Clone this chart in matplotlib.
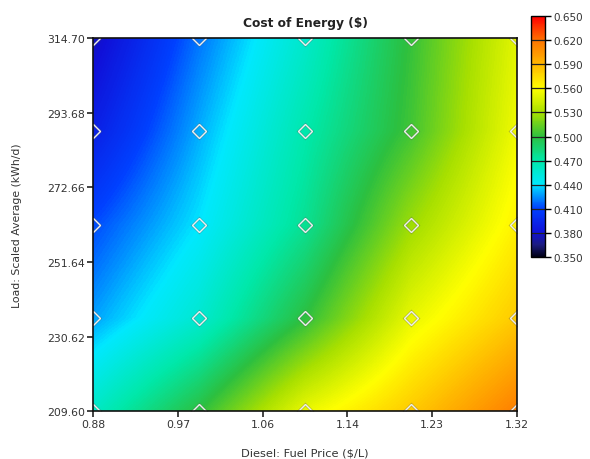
import numpy as np
import matplotlib
matplotlib.use("Agg")
import matplotlib.pyplot as plt
from matplotlib.colors import LinearSegmentedColormap

plt.rcParams['font.family'] = ['DejaVu Sans']

# Data
fuel_price = [0.88, 0.99, 1.10, 1.21, 1.32]
load_avg = [209.600, 235.875, 262.150, 288.425, 314.700]
# rows: load (bottom to top), cols: fuel price
coe = [
    [0.460, 0.500, 0.553, 0.582, 0.615],
    [0.428, 0.456, 0.500, 0.552, 0.582],
    [0.412, 0.440, 0.476, 0.527, 0.565],
    [0.390, 0.430, 0.468, 0.505, 0.555],
    [0.375, 0.420, 0.458, 0.502, 0.550],
]
xtick_labels = ['0.88', '0.97', '1.06', '1.14', '1.23', '1.32']
ytick_labels = ['209.60', '230.62', '251.64', '272.66', '293.68', '314.70']
cbar_ticks = [0.35, 0.38, 0.41, 0.44, 0.47, 0.50, 0.53, 0.56, 0.59, 0.62, 0.65]

vmin, vmax = 0.35, 0.65
anchors = [
    (0.35, '#000018'), (0.365, '#1c1c80'), (0.38, '#1010d8'), (0.41, '#0040ff'),
    (0.425, '#0090ff'), (0.44, '#00e8ff'), (0.47, '#00e8a8'), (0.50, '#2cc040'),
    (0.53, '#a8e000'), (0.56, '#ffff00'), (0.59, '#ffb800'), (0.62, '#ff7400'),
    (0.65, '#ff0000'),
]
cmap = LinearSegmentedColormap.from_list(
    'homer', [((v - vmin) / (vmax - vmin), c) for v, c in anchors])

fig = plt.figure(figsize=(5.9, 4.6), dpi=100)
ax = fig.add_axes([0.158, 0.104, 0.718, 0.811])
Z = np.array(coe)
dx = (fuel_price[-1] - fuel_price[0]) / (len(fuel_price) - 1)
dy = (load_avg[-1] - load_avg[0]) / (len(load_avg) - 1)
im = ax.imshow(Z, origin='lower', cmap=cmap, vmin=vmin, vmax=vmax,
               interpolation='bilinear', interpolation_stage='data',
               aspect='auto',
               extent=[fuel_price[0] - dx / 2, fuel_price[-1] + dx / 2,
                       load_avg[0] - dy / 2, load_avg[-1] + dy / 2])

X, Y = np.meshgrid(fuel_price, load_avg)
# diamond markers at simulated points
ax.plot(X.ravel(), Y.ravel(), linestyle='none', marker='D', markersize=7.5,
        markerfacecolor='none', markeredgecolor='#606060', markeredgewidth=2.0,
        alpha=0.35, clip_on=True)
ax.plot(X.ravel(), Y.ravel(), linestyle='none', marker='D', markersize=7.5,
        markerfacecolor='none', markeredgecolor='#eeeeee', markeredgewidth=1.0,
        clip_on=True)

xmin, xmax = fuel_price[0], fuel_price[-1]
ymin, ymax = load_avg[0], load_avg[-1]
ax.set_xlim(xmin, xmax)
ax.set_ylim(ymin, ymax)
ax.set_xticks(np.linspace(xmin, xmax, len(xtick_labels)))
ax.set_xticklabels(xtick_labels)
ax.set_yticks(np.linspace(ymin, ymax, len(ytick_labels)))
ax.set_yticklabels(ytick_labels)
ax.tick_params(axis='both', direction='out', length=4, width=1.2,
               labelsize=7.8, colors='#222222', labelcolor='#333333', pad=2)
for s in ax.spines.values():
    s.set_linewidth(1.2)
    s.set_color('#111111')

ax.set_title('Cost of Energy ($)', fontsize=8.8, fontweight='bold',
             color='#222222', pad=9)
ax.set_xlabel('Diesel: Fuel Price ($/L)', fontsize=8.2, color='#333333', labelpad=13)
ax.set_ylabel('Load: Scaled Average (kWh/d)', fontsize=7.8, color='#333333', labelpad=18)

cax = fig.add_axes([0.9, 0.439, 0.0237, 0.524])
cb = fig.colorbar(im, cax=cax, ticks=cbar_ticks)
cb.ax.set_yticklabels([f'{t:.3f}' for t in cbar_ticks])
cb.ax.tick_params(direction='out', length=4, width=1.0, labelsize=7.5,
                  labelcolor='#333333', pad=2)
cb.outline.set_linewidth(1.0)
for t in cbar_ticks[1:-1]:
    cb.ax.axhline(t, color='#222222', linewidth=0.9)

fig.savefig('out.png', dpi=100)
